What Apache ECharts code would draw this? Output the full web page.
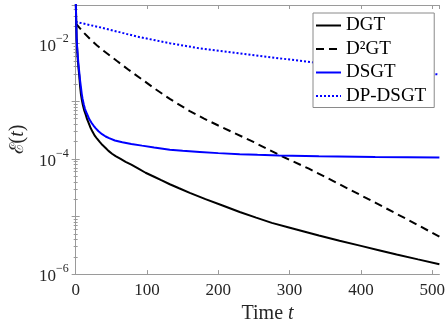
<!DOCTYPE html>
<html>
<head>
<meta charset="utf-8">
<script src="https://cdn.jsdelivr.net/npm/echarts@6/dist/echarts.min.js"></script>
<style>html,body{margin:0;padding:0;background:#fff}#c{width:448px;height:329px}</style>
</head>
<body>
<div id="c"></div>
<script>
// ---- data ----
const xDGT = [0, 1.4, 2.2, 3, 4, 5, 6.2, 7.4, 8.7, 10, 12, 14.3, 16, 18, 20.5, 23.7, 27, 30, 34, 37.6, 42, 46, 51, 56, 63, 70, 78, 88, 98, 110, 120, 132, 145, 160, 182, 206, 230, 253, 275, 299, 320, 341, 370, 400, 425, 450, 480, 510];
const yDGT = [0.0631, 0.01175, 0.00759, 0.00525, 0.00372, 0.00282, 0.00182, 0.00132, 0.00105, 8.71e-4, 6.92e-4, 5.75e-4, 4.90e-4, 4.27e-4, 3.55e-4, 2.95e-4, 2.51e-4, 2.24e-4, 1.95e-4, 1.74e-4, 1.55e-4, 1.38e-4, 1.23e-4, 1.12e-4, 1.0e-4, 8.91e-5, 7.94e-5, 6.76e-5, 5.75e-5, 4.90e-5, 4.27e-5, 3.63e-5, 3.09e-5, 2.57e-5, 2.0e-5, 1.55e-5, 1.20e-5, 9.55e-6, 7.76e-6, 6.46e-6, 5.50e-6, 4.68e-6, 3.80e-6, 3.09e-6, 2.60e-6, 2.19e-6, 1.80e-6, 1.48e-6];

const xD2GT = [0, 10, 21, 30, 40, 58, 75, 93, 112, 132, 160, 180, 200, 225, 250, 270, 290, 327, 370, 420, 465, 510];
const yD2GT = [0.0226, 0.0162, 0.01175, 0.00933, 0.0074, 0.0050, 0.00347, 0.0024, 0.00162, 0.0011, 6.76e-4, 5.01e-4, 3.8e-4, 2.72e-4, 1.95e-4, 1.46e-4, 1.10e-4, 6.76e-5, 3.63e-5, 1.74e-5, 8.9e-6, 4.47e-6];

const xDSGT = [0, 1.4, 2.2, 3, 4, 5.1, 6.2, 7.4, 8.5, 9.7, 11.3, 13, 14.8, 16.7, 19, 22, 25, 28.2, 32, 37, 42, 46.9, 55, 65.4, 78, 93, 110, 132, 150, 174, 200, 230, 255, 285, 341, 420, 510];
const yDSGT = [0.0631, 0.01175, 0.00832, 0.00603, 0.00427, 0.00316, 0.00229, 0.00174, 0.00135, 0.0011, 8.91e-4, 7.41e-4, 6.46e-4, 5.75e-4, 4.90e-4, 4.27e-4, 3.80e-4, 3.39e-4, 3.02e-4, 2.69e-4, 2.45e-4, 2.29e-4, 2.09e-4, 1.95e-4, 1.82e-4, 1.70e-4, 1.58e-4, 1.445e-4, 1.38e-4, 1.32e-4, 1.26e-4, 1.20e-4, 1.175e-4, 1.15e-4, 1.11e-4, 1.08e-4, 1.06e-4];

const xDP = [0, 39.4, 86, 132, 174, 206, 253, 290, 329, 380, 440, 510];
const yDP = [0.024, 0.0186, 0.0133, 0.0102, 0.0083, 0.0074, 0.00624, 0.0055, 0.00479, 0.00417, 0.00347, 0.00292];

const seriesNames = ['DGT', 'D\u00B2GT', 'DSGT', 'DP-DSGT'];
const xTicks = [0, 100, 200, 300, 400, 500];
const yLabelExps = [-6, -4, -2];

const xMin = 0, xMax = 510, yMin = 1e-6, yMax = 0.047;

function pairs(xs, ys) { return xs.map((x, i) => [x, ys[i]]); }

const FONT = 'Liberation Serif';
const AXC = '#9a9a9a';
const TXC = '#262626';

function yFmt(v) {
  const e = Math.log10(v);
  const r = Math.round(e);
  if (Math.abs(e - r) > 1e-6) return '';
  if (yLabelExps.indexOf(r) < 0) return '';
  return '{b|10}{s|\u2212' + Math.abs(r) + '}';
}

const chart = echarts.init(document.getElementById('c'), null, {renderer: 'canvas'});
const common = {type: 'line', showSymbol: false, symbol: 'none', clip: true, animation: false};
chart.setOption({
  backgroundColor: '#fff',
  animation: false,
  grid: {left: 75, right: 7, top: 5, bottom: 51, containLabel: false},
  legend: {
    orient: 'vertical', left: 313, top: 13,
    padding: [3, 8, 2, 2], itemGap: 4.5, itemWidth: 25, itemHeight: 14,
    borderColor: '#8a8a8a', borderWidth: 1, backgroundColor: '#fff',
    itemStyle: {opacity: 0},
    textStyle: {fontFamily: FONT, fontSize: 19, color: '#000', lineHeight: 17},
    data: seriesNames
  },
  xAxis: [{
    type: 'value', min: xMin, max: xMax, interval: 100,
    axisLine: {show: true, lineStyle: {color: AXC, width: 1}},
    axisTick: {show: true, inside: true, length: 4, lineStyle: {color: AXC}},
    splitLine: {show: false},
    axisLabel: {fontFamily: FONT, fontSize: 17, color: TXC, margin: 8, showMaxLabel: false,
      formatter: v => xTicks.indexOf(v) >= 0 ? String(v) : ''},
    name: 'Time {i|t}', nameLocation: 'middle', nameGap: 28,
    nameTextStyle: {fontFamily: FONT, fontSize: 20, color: TXC, padding: [0, 0, 0, 20],
      rich: {i: {fontFamily: FONT, fontStyle: 'italic', fontSize: 20, color: TXC}}}
  }, {
    type: 'value', position: 'top', min: xMin, max: xMax, interval: 100,
    axisLine: {show: true, lineStyle: {color: AXC, width: 1}},
    axisTick: {show: true, inside: true, length: 4, lineStyle: {color: AXC}},
    axisLabel: {show: false}, splitLine: {show: false}
  }],
  yAxis: [{
    type: 'log', min: yMin, max: yMax, logBase: 10, interval: 1,
    axisLine: {show: true, lineStyle: {color: AXC, width: 1}},
    axisTick: {show: true, inside: true, length: 4, lineStyle: {color: AXC}},
    minorTick: {show: true, splitNumber: 9, length: 2, lineStyle: {color: AXC}},
    splitLine: {show: false}, minorSplitLine: {show: false},
    axisLabel: {margin: 7, showMaxLabel: false, formatter: yFmt,
      rich: {
        b: {fontFamily: FONT, fontSize: 17, color: TXC, lineHeight: 22, verticalAlign: 'bottom'},
        s: {fontFamily: FONT, fontSize: 12, color: TXC, lineHeight: 22, verticalAlign: 'top'}
      }},
    name: '{e|\u2130}({i|t})', nameLocation: 'middle', nameGap: 40, nameRotate: 90,
    nameTextStyle: {fontFamily: FONT, fontSize: 20, color: TXC,
      rich: {e: {fontFamily: 'DejaVu Serif', fontSize: 19, color: TXC},
             i: {fontFamily: FONT, fontStyle: 'italic', fontSize: 20, color: TXC}}}
  }, {
    type: 'log', position: 'right', min: yMin, max: yMax, logBase: 10, interval: 1,
    axisLine: {show: true, lineStyle: {color: AXC, width: 1}},
    axisTick: {show: true, inside: true, length: 4, lineStyle: {color: AXC}},
    minorTick: {show: true, splitNumber: 9, length: 2, lineStyle: {color: AXC}},
    axisLabel: {show: false}, splitLine: {show: false}
  }],
  series: [
    Object.assign({}, common, {name: seriesNames[0], data: pairs(xDGT, yDGT), lineStyle: {color: '#000', width: 2}, itemStyle: {color: '#000'}, z: 3}),
    Object.assign({}, common, {name: seriesNames[1], data: pairs(xD2GT, yD2GT), lineStyle: {color: '#000', width: 2, type: [8, 5]}, itemStyle: {color: '#000'}, z: 2}),
    Object.assign({}, common, {name: seriesNames[2], data: pairs(xDSGT, yDSGT), lineStyle: {color: '#0000ff', width: 2}, itemStyle: {color: '#0000ff'}, z: 4}),
    Object.assign({}, common, {name: seriesNames[3], data: pairs(xDP, yDP), lineStyle: {color: '#0000ff', width: 2, type: [2, 2]}, itemStyle: {color: '#0000ff'}, z: 2})
  ]
});
</script>
</body>
</html>
